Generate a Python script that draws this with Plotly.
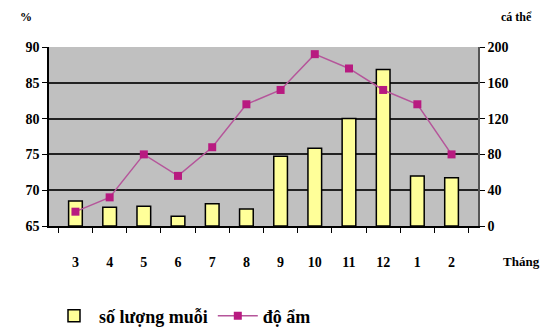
import plotly.graph_objects as go

months = ["3", "4", "5", "6", "7", "8", "9", "10", "11", "12", "1", "2"]
mosquito_count = [28, 21, 22, 11, 25, 19, 78, 87, 120, 175, 56, 54]
humidity = [67, 69, 75, 72, 76, 82, 84, 89, 87, 84, 82, 75]

font_family = "Liberation Serif"

fig = go.Figure()
fig.add_trace(go.Bar(
    x=months, y=mosquito_count, name="<b>số lượng muỗi</b>", yaxis="y",
    marker=dict(color="#ffff99", line=dict(color="#000000", width=1.5)),
))
fig.add_trace(go.Scatter(
    x=months, y=humidity, name="<b>độ ẩm</b>", yaxis="y2", mode="lines+markers",
    line=dict(color="#b5559a", width=1.5),
    marker=dict(symbol="square", size=8, color="#b81a80"),
))

fig.update_layout(
    width=543, height=325,
    margin=dict(l=41, r=73, t=39, b=107, autoexpand=False),
    plot_bgcolor="#c0c0c0", paper_bgcolor="#ffffff",
    bargap=0.6,
    font=dict(family=font_family, size=14, color="#000000", weight="bold"),
    xaxis=dict(
        type="category", showline=True, linecolor="#000000", linewidth=1.5,
        ticks="outside", tickson="boundaries", ticklen=5, tickcolor="#000000",
        showgrid=False, tickfont=dict(family=font_family, size=14, weight="bold"),
        ticklabelstandoff=22,
    ),
    yaxis=dict(
        side="right", range=[0, 200], dtick=40, showline=True,
        linecolor="#555555", linewidth=1.5, ticks="outside", ticklen=5,
        tickcolor="#000000", showgrid=True, gridcolor="#222222", gridwidth=1.5,
        zeroline=False, tickfont=dict(family=font_family, size=14, weight="bold"),
    ),
    yaxis2=dict(
        side="left", overlaying="y", range=[65, 90], dtick=5, showline=True,
        linecolor="#000000", linewidth=1.5, ticks="outside", ticklen=5,
        tickcolor="#000000", showgrid=False, zeroline=False,
        tickfont=dict(family=font_family, size=14, weight="bold"),
    ),
    legend=dict(
        orientation="h", x=0.0, xanchor="left", y=-0.40, yanchor="top",
        font=dict(family=font_family, size=18), itemwidth=40,
        bgcolor="rgba(0,0,0,0)",
    ),
    annotations=[
        dict(text="<b>%</b>", xref="paper", yref="paper", x=-0.072, y=1.17,
             showarrow=False, xanchor="left", yanchor="middle",
             font=dict(family=font_family, size=12)),
        dict(text="<b>cá thể</b>", xref="paper", yref="paper", x=1.05, y=1.17,
             showarrow=False, xanchor="left", yanchor="middle",
             font=dict(family=font_family, size=12)),
        dict(text="<b>Tháng</b>", xref="paper", yref="paper", x=1.15, y=-0.2,
             showarrow=False, xanchor="right", yanchor="middle",
             font=dict(family=font_family, size=13)),
    ],
)

fig.write_html("out.html")
